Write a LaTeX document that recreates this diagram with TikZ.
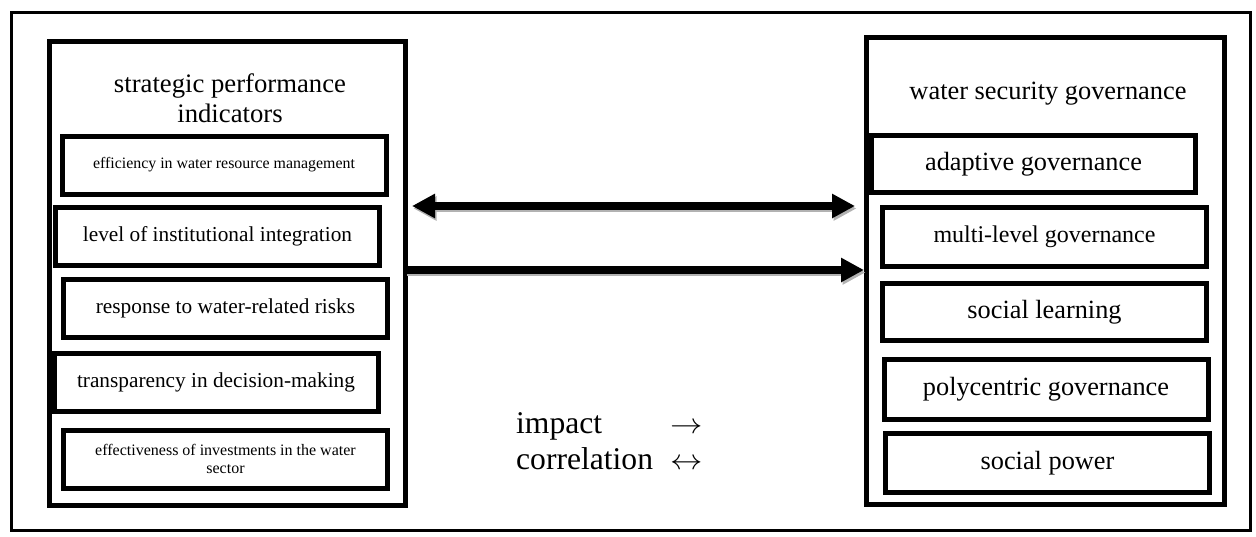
\documentclass[tikz,border=0pt]{standalone}
\usepackage{fontspec}
\setmainfont{Liberation Serif}
\usetikzlibrary{arrows.meta}

\tikzset{
    group/.style={draw, rectangle, line width=5pt, outer sep=0pt, inner sep=0pt},
    item/.style={draw, rectangle, line width=5pt, outer sep=0pt, inner sep=0pt, align=center, minimum width=324pt, minimum height=58pt},
    link/.style={line width=7.5pt, >={Triangle[length=23pt,width=23pt]}},
    link shadow/.style={link, draw=black!30, transform canvas={xshift=1.5pt, yshift=-2.5pt}}
}

\begin{document}
\begin{tikzpicture}[x=1pt, y=-1pt]
                \useasboundingbox (0,0) rectangle (1256,536);
                \node[draw, rectangle, line width=3pt, inner sep=0pt, minimum width=1239pt, minimum height=518pt] (frame) at (631,271.5) {};

                \node[group, minimum width=356pt, minimum height=464pt] (spi) at (227.5,273.5) {};
                \node[group, minimum width=358pt, minimum height=467pt] (wsg) at (1045.5,271) {};

                \node[align=center, font=\fontsize{26.7}{30}\selectfont] (spi title) at (230,98) {strategic performance\\indicators};
                \node[font=\fontsize{26.4}{30}\selectfont] (wsg title) at (1048,93.5) {water security governance};

                \node[item, font=\fontsize{15.9}{18}\selectfont] (efficiency) at (224,165) {efficiency in water resource management};
                \node[item, font=\fontsize{21.3}{24}\selectfont] (integration) at (217.5,236.5) {level of institutional integration};
                \node[item, font=\fontsize{21.3}{24}\selectfont] (risks) at (225.5,308) {response to water-related risks};
                \node[item, font=\fontsize{21.3}{24}\selectfont] (transparency) at (216,382.5) {transparency in decision-making};
                \node[item, font=\fontsize{16}{18}\selectfont] (investments) at (225.5,459) {effectiveness of investments in the water\\sector};

                \node[item, font=\fontsize{26.3}{30}\selectfont, minimum height=57pt] (adaptive) at (1033.5,164) {adaptive governance};
                \node[item, font=\fontsize{24}{28}\selectfont, minimum height=59pt] (multilevel) at (1044.5,237) {multi-level governance};
                \node[item, font=\fontsize{26.3}{30}\selectfont, minimum height=57pt] (learning) at (1044.5,312) {social learning};
                \node[item, font=\fontsize{26.3}{30}\selectfont, minimum height=60pt] (polycentric) at (1046,389.5) {polycentric governance};
                \node[item, font=\fontsize{26.3}{30}\selectfont, minimum height=59pt] (power) at (1047.5,463) {social power};

                \draw[link shadow, <->, shorten <=6.5pt, shorten >=11.5pt] (spi.east |- 0,206) -- (wsg.west |- 0,206);
                \draw[link shadow, ->, shorten >=2.5pt] (spi.east |- 0,270) -- (wsg.west |- 0,270);
                \draw[link, <->, shorten <=6.5pt, shorten >=11.5pt] (spi.east |- 0,206) -- (wsg.west |- 0,206);
                \draw[link, ->, shorten >=2.5pt] (spi.east |- 0,270) -- (wsg.west |- 0,270);

                \node[anchor=base west, inner sep=0pt, font=\fontsize{31.6}{36}\selectfont] (legend) at (516,433) {\begin{tabular}[t]{@{}l@{\hspace{17pt}}l@{}}impact & \scalebox{1.3}[1.15]{$\rightarrow$}\\correlation & \scalebox{1.3}[1.15]{$\leftrightarrow$}\end{tabular}};
\end{tikzpicture}
\end{document}
